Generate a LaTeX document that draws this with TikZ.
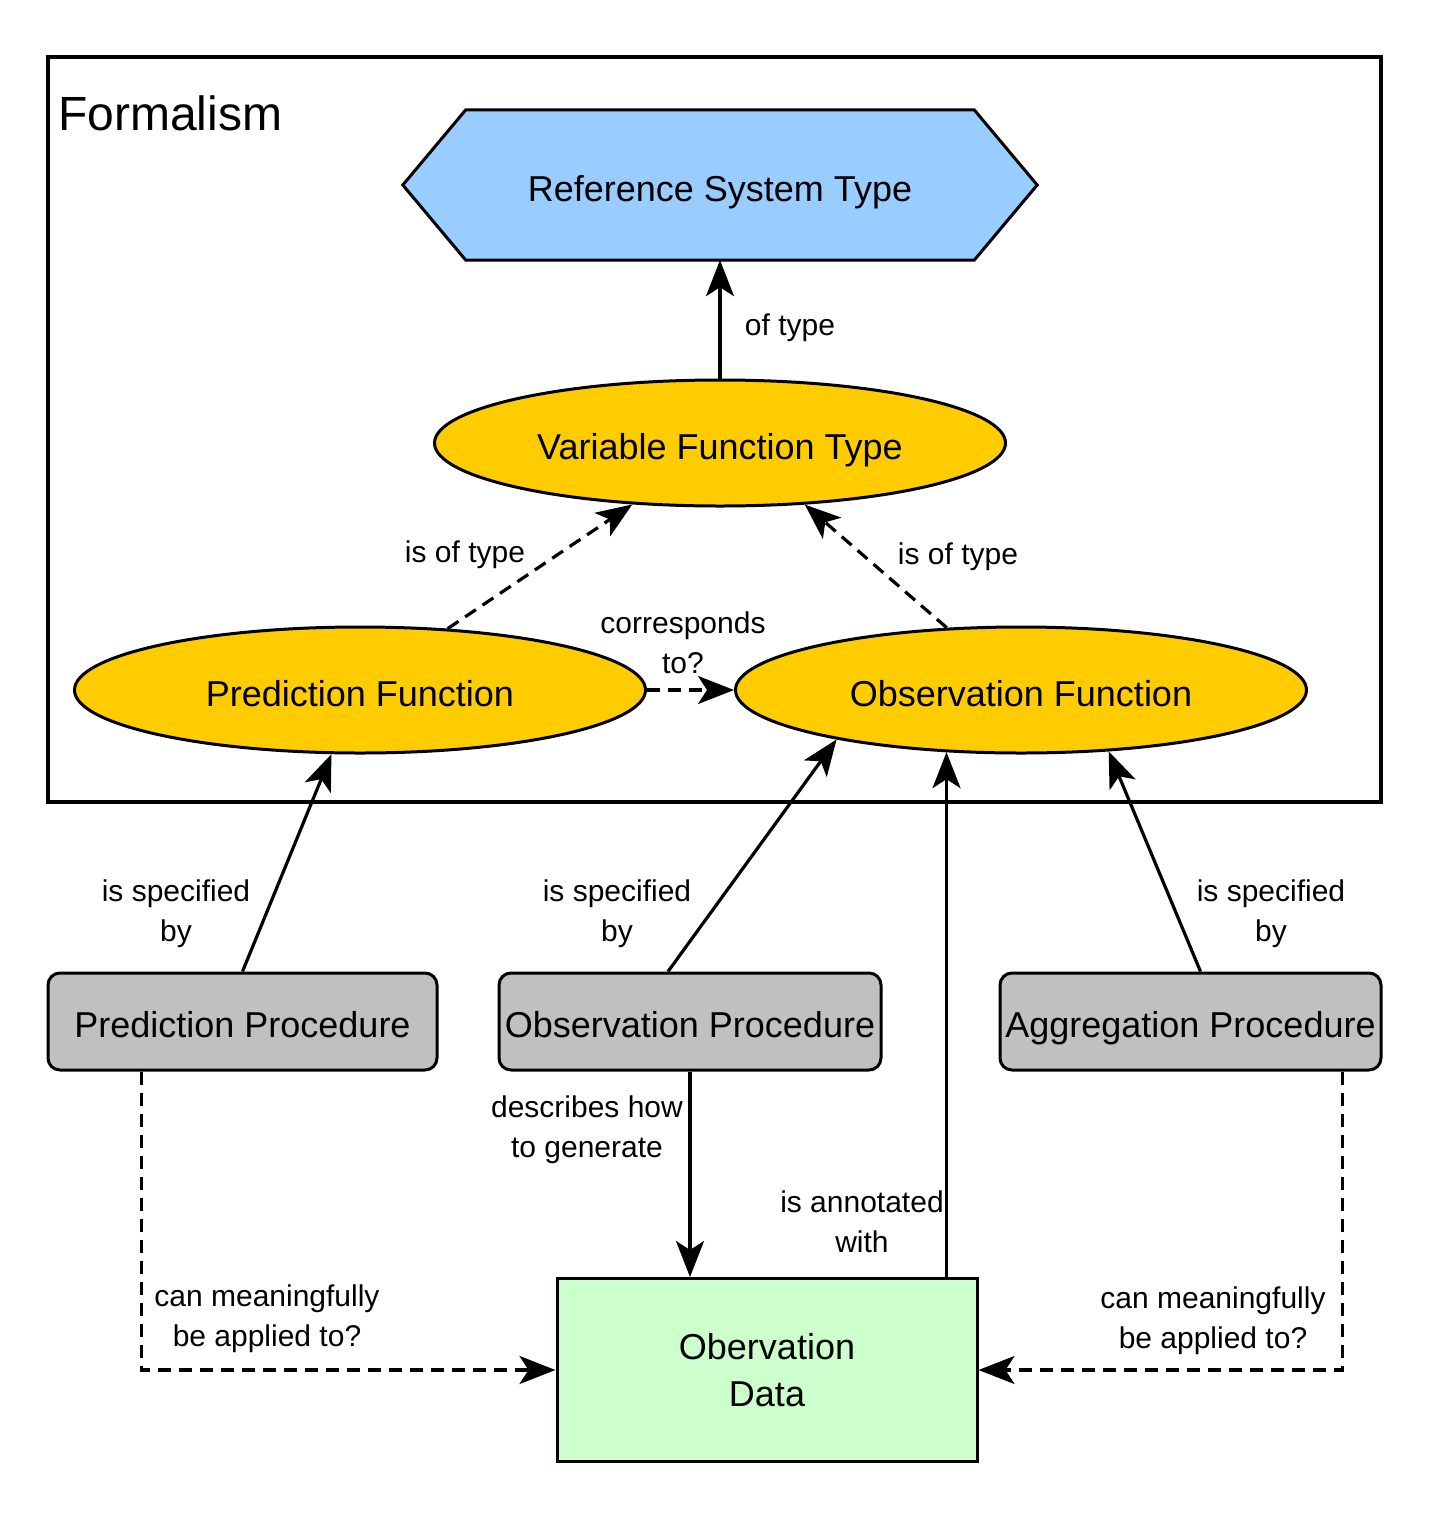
\documentclass[tikz,border=0pt]{standalone}
\usepackage{fontspec}
\setmainfont{Liberation Sans}
\usetikzlibrary{positioning, shapes.geometric, arrows.meta, backgrounds}

\definecolor{refblue}{HTML}{99CCFF}
\definecolor{funcyellow}{HTML}{FFCC00}
\definecolor{procgray}{HTML}{C0C0C0}
\definecolor{datagreen}{HTML}{CCFFCC}

\begin{document}
\begin{tikzpicture}[x=1pt, y=-1pt,
        func/.style={ellipse, draw, line width=3pt, fill=funcyellow, minimum width=571pt, minimum height=126pt, inner sep=0pt, text height=34pt, text depth=2pt, font=\fontsize{36}{47}\selectfont},
        proc/.style={rectangle, rounded corners=12pt, draw, line width=3pt, fill=procgray, minimum height=97pt, inner sep=0pt, text height=34pt, text depth=2pt, font=\fontsize{36}{47}\selectfont},
        lbl/.style={align=center, inner sep=0pt, font=\fontsize{30}{40}\selectfont},
        arr/.style={line width=3.2pt, -{Stealth[length=36pt, width=28pt, inset=9pt]}},
        dsh/.style={arr, dash pattern=on 13pt off 8pt}]
        \useasboundingbox (0,0) rectangle (1430,1513);
        \draw[line width=3.2pt] (48,57) rectangle (1381,802);
        \node[anchor=base west, inner sep=0pt, font=\fontsize{48}{58}\selectfont] (fml) at (58,130) {Formalism};

        \node[minimum width=634pt, minimum height=150pt, inner sep=0pt, text height=34pt, text depth=2pt, font=\fontsize{36}{47}\selectfont] (rst) at (720,185) {Reference System Type};
        \begin{scope}[on background layer]
            \draw[line width=3pt, fill=refblue] (rst.west) -- ([xshift=63pt]rst.north west) -- ([xshift=-63pt]rst.north east) -- (rst.east) -- ([xshift=-63pt]rst.south east) -- ([xshift=63pt]rst.south west) -- cycle;
        \end{scope}
        \node[func] (vft) at (720,443) {Variable Function Type};
        \node[func] (pf) at (360,690) {Prediction Function};
        \node[func] (of) at (1021,690) {Observation Function};

        \node[proc, minimum width=389pt] (pp) at (242.5,1021.5) {Prediction Procedure};
        \node[proc, minimum width=382pt] (op) at (690,1021.5) {Observation Procedure};
        \node[proc, minimum width=381pt] (ap) at (1190.5,1021.5) {Aggregation Procedure};
        \node[draw, line width=3pt, fill=datagreen, minimum width=420pt, minimum height=183pt, align=center, font=\fontsize{36}{47}\selectfont] (od) at (767,1370) {Obervation\\Data};

        \draw[arr] (vft) -- (rst);
        \node[lbl] (l1) at (790,328) {of type};
        \draw[dsh] (pf.35) -- (vft.215);
        \node[lbl] (l2) at (465,555) {is of type};
        \draw[dsh] (of.140) -- (vft.324);
        \node[lbl] (l3) at (958,557) {is of type};
        \draw[dsh] (pf) -- (of);
        \node[lbl] (l4) at (683,643) {corresponds\\to?};

        \draw[arr] (pp.north) -- (pf.246);
        \node[lbl] (l5) at (176,914) {is specified\\by};
        \draw[arr] ([xshift=-22pt]op.north) -- (of.195);
        \node[lbl] (l6) at (617,914) {is specified\\by};
        \draw[arr] ([xshift=10pt]ap.north) -- (of.325);
        \node[lbl] (l7) at (1271,914) {is specified\\by};

        \draw[arr] (op.south) -- (op.south |- od.north);
        \node[lbl] (l8) at (587,1130) {describes how\\to generate};
        \draw[arr] ([xshift=-32pt]od.north east) -- ([xshift=-32pt]od.north east |- of.219);
        \node[lbl] (l9) at (862,1222) {is annotated\\with};

        \draw[dsh] ([xshift=95pt]pp.south west) |- (od.west);
        \node[lbl] (l10) at (267,1319) {can meaningfully\\be applied to?};
        \draw[dsh] ([xshift=-40pt]ap.south east) |- (od.east);
        \node[lbl] (l11) at (1213,1321) {can meaningfully\\be applied to?};
    \end{tikzpicture}
\end{document}
